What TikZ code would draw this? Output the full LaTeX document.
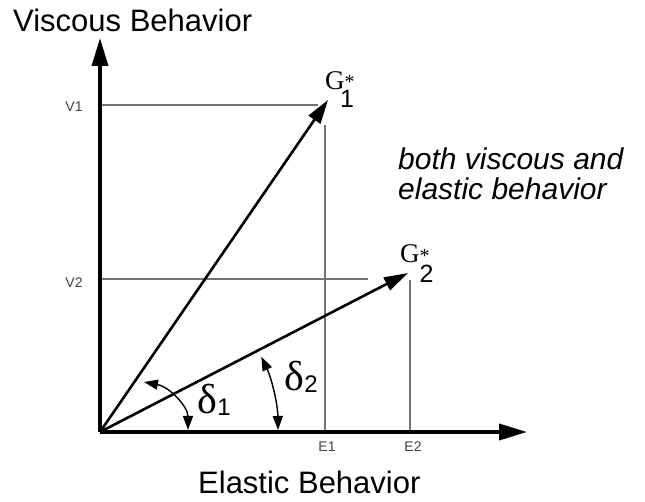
\documentclass[tikz,border=0pt]{standalone}
\usepackage{fontspec}
\setmainfont{Liberation Sans}
\newfontfamily\seriffont{Liberation Serif}
\usetikzlibrary{arrows.meta}

\begin{document}
\begin{tikzpicture}[
    x=1pt, y=1pt,
    every node/.style={inner sep=0pt},
    axis/.style={line width=3.6pt, -{Triangle[length=28pt, width=16pt]}},
    vec/.style={line width=2.6pt, -{Triangle[length=24pt, width=14pt]}},
    guide/.style={line width=1.3pt, draw=black!55},
    anglearc/.style={line width=1.4pt,
        {Triangle[length=14pt, width=10pt]}-{Triangle[length=14pt, width=10pt]}},
    axlabel/.style={font=\fontsize{31}{31}\selectfont},
    note/.style={font=\itshape\fontsize{30}{30}\selectfont},
    tick/.style={font=\fontsize{14}{14}\selectfont, text=black!75},
    glabel/.style={anchor=base west, font=\fontsize{25}{25}\selectfont},
    dsym/.style={font=\seriffont\fontsize{42}{42}\selectfont},
    dsub/.style={font=\fontsize{24}{24}\selectfont}
]
\useasboundingbox (-100,-70) rectangle (545,432);

% points
\coordinate (O) at (0,0);
\coordinate (ytop) at (0,394);
\coordinate (xend) at (427,0);
\coordinate (g1) at (228,332);
\coordinate (g2) at (308,159);

% guide lines
\coordinate (v1) at (0,327);
\coordinate (v1end) at (218,327);
\coordinate (e1) at (225,0);
\coordinate (e1end) at (225,307);
\coordinate (v2) at (0,153);
\coordinate (v2end) at (268,153);
\coordinate (e2) at (310,0);
\coordinate (e2end) at (310,152);
\draw[guide] (v1) -- (v1end);
\draw[guide] (e1) -- (e1end);
\draw[guide] (v2) -- (v2end);
\draw[guide] (e2) -- (e2end);

% axes
\draw[axis] (O) -- (ytop);
\draw[axis] (O) -- (xend);

% vectors
\draw[vec] (O) -- (g1);
\draw[vec] (O) -- (g2);

% angles
\draw[anglearc] (88,2) .. controls (88,25) and (70,45) .. (44,50);
\draw[anglearc] (178,2) arc[start angle=0.6, end angle=25, radius=178];

% tick labels
\node[tick] (lv1) at (-26,325) {V1};
\node[tick] (lv2) at (-26,149) {V2};
\node[tick] (le1) at (227,-15) {E1};
\node[tick] (le2) at (313,-15) {E2};

% vector labels
\node[glabel] (gl1) at (225,342)
    {{\seriffont\fontsize{27}{27}\selectfont G\rlap{\raisebox{1pt}{\fontsize{20}{20}\selectfont *}}}\kern-4.5pt\raisebox{-18pt}{1}};
\node[glabel] (gl2) at (300,169)
    {{\seriffont\fontsize{27}{27}\selectfont G\rlap{\raisebox{0pt}{\fontsize{20}{20}\selectfont *}}}\raisebox{-20pt}{2}};

% angle labels
\node[dsym] (d1) at (107,33) {δ};
\node[dsub] (dn1) at (124,25) {1};
\node[dsym] (d2) at (194,56) {δ};
\node[dsub] (dn2) at (211,48) {2};

% axis titles and note
\node[axlabel, anchor=base west] (vtitle) at (-87,400) {Viscous Behavior};
\node[axlabel, anchor=base west] (etitle) at (98,-62) {Elastic Behavior};
\node[note, anchor=base west] (note1) at (298,262) {both viscous and};
\node[note, anchor=base west] (note2) at (298,232) {elastic behavior};
\end{tikzpicture}
\end{document}
